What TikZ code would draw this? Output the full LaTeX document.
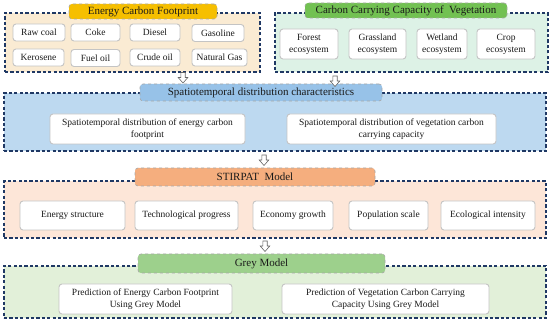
\documentclass[tikz,border=0pt]{standalone}
\usepackage{fontspec}
\setmainfont{Liberation Serif}
\definecolor{navy}{HTML}{1F3864}
\definecolor{fOne}{HTML}{FAEBD3}
\definecolor{tOne}{HTML}{F6BF00}
\definecolor{fTwo}{HTML}{DDF2E6}
\definecolor{tTwo}{HTML}{72C152}
\definecolor{fThree}{HTML}{BDD9F0}
\definecolor{tThree}{HTML}{97C2E8}
\definecolor{fFour}{HTML}{FDE6D8}
\definecolor{tFour}{HTML}{F5AE7E}
\definecolor{fFive}{HTML}{E2F0D9}
\definecolor{tFive}{HTML}{9DD08C}
\definecolor{itemline}{HTML}{C4C4C4}
\definecolor{txt}{HTML}{1A1A1A}
\tikzset{
  frame/.style={draw=navy, line width=1.1pt, dash pattern=on 3.2pt off 2.2pt, inner sep=0pt},
  titlebox/.style={draw=gray!70, dashed, line width=0.6pt, rounded corners=3pt, inner sep=0pt,
    font=\fontsize{11}{13}\selectfont, text=txt},
  itembox/.style={draw=itemline, line width=0.9pt, fill=white, rounded corners=3pt, inner sep=0pt,
    align=center, font=\fontsize{9.5}{12}\selectfont, text=txt},
  barrow/.style={draw=gray!80!black, fill=white, line width=0.6pt, line join=miter}
}
\newcommand\downarr[1]{\draw[barrow] (#1) ++(-2.2,0) -- ++(4.4,0) -- ++(0,5) -- ++(2.6,0) -- ++(-4.8,5.5) -- ++(-4.8,-5.5) -- ++(2.6,0) -- cycle;}
\begin{document}
\begin{tikzpicture}[x=1pt,y=-1pt]
\useasboundingbox (0,0) rectangle (550,320);
% frames
\node[frame, fill=fOne, minimum width=255pt, minimum height=59pt] (f1) at (132.5,42.5) {};
\node[frame, fill=fTwo, minimum width=273pt, minimum height=59pt] (f2) at (411.5,42.5) {};
\node[frame, fill=fThree, minimum width=542pt, minimum height=58pt] (f3) at (275,122) {};
\node[frame, fill=fFour, minimum width=542pt, minimum height=57pt] (f4) at (275,209.5) {};
\node[frame, fill=fFive, minimum width=542pt, minimum height=52pt] (f5) at (275,292) {};
% titles
\node[titlebox, fill=tOne, minimum width=148pt, minimum height=15pt] (t1) at (143,11.5) {Energy Carbon Footprint};
\node[titlebox, fill=tTwo, minimum width=202pt, minimum height=15pt] (t2) at (406,10.5) {Carbon Carrying Capacity of\ \ Vegetation};
\node[titlebox, fill=tThree, minimum width=242pt, minimum height=17pt] (t3) at (261,92.5) {Spatiotemporal distribution characteristics};
\node[titlebox, fill=tFour, minimum width=240pt, minimum height=18pt] (t4) at (255,177) {STIRPAT\ \ Model};
\node[titlebox, fill=tFive, minimum width=247pt, minimum height=19pt] (t5) at (261.5,263.5) {Grey Model};
% energy items
\node[itembox, minimum width=52pt, minimum height=17pt] (e1) at (39,32.5) {Raw coal};
\node[itembox, minimum width=49pt, minimum height=17pt] (e2) at (95.5,32.5) {Coke};
\node[itembox, minimum width=50pt, minimum height=17pt] (e3) at (155,32.5) {Diesel};
\node[itembox, minimum width=52pt, minimum height=17pt] (e4) at (218,33) {Gasoline};
\node[itembox, minimum width=51pt, minimum height=17pt] (e5) at (38.5,57.5) {Kerosene};
\node[itembox, minimum width=49pt, minimum height=17pt] (e6) at (95.5,58) {Fuel oil};
\node[itembox, minimum width=50pt, minimum height=17pt] (e7) at (155,57.5) {Crude oil};
\node[itembox, minimum width=55pt, minimum height=17pt] (e8) at (219.5,57.5) {Natural Gas};
% vegetation items
\node[itembox, minimum width=58pt, minimum height=30pt] (v1) at (309,44) {Forest\\ecosystem};
\node[itembox, minimum width=57pt, minimum height=30pt] (v2) at (377.5,44) {Grassland\\ecosystem};
\node[itembox, minimum width=50pt, minimum height=30pt] (v3) at (442,44) {Wetland\\ecosystem};
\node[itembox, minimum width=58pt, minimum height=30pt] (v4) at (506,44) {Crop\\ecosystem};
% spatiotemporal items
\node[itembox, minimum width=195pt, minimum height=30pt] (s1) at (147.5,129) {Spatiotemporal distribution of energy carbon\\footprint};
\node[itembox, minimum width=209pt, minimum height=30pt] (s2) at (391.5,129) {Spatiotemporal distribution of vegetation carbon\\carrying capacity};
% STIRPAT items
\node[itembox, minimum width=105pt, minimum height=29pt] (p1) at (72.5,215.5) {Energy structure};
\node[itembox, minimum width=103pt, minimum height=29pt] (p2) at (186.5,215.5) {Technological progress};
\node[itembox, minimum width=80pt, minimum height=29pt] (p3) at (293,215.5) {Economy growth};
\node[itembox, minimum width=79pt, minimum height=29pt] (p4) at (388.5,215.5) {Population scale};
\node[itembox, minimum width=94pt, minimum height=29pt] (p5) at (488,215.5) {Ecological intensity};
% grey model items
\node[itembox, minimum width=173pt, minimum height=30pt] (g1) at (145.5,299) {Prediction of Energy Carbon Footprint\\Using Grey Model};
\node[itembox, minimum width=207pt, minimum height=30pt] (g2) at (385.5,299) {Prediction of Vegetation Carbon Carrying\\Capacity Using Grey Model};
% arrows
\coordinate (a1) at (f1.south -| 183,0);
\coordinate (a2) at (335,76);
\coordinate (a3) at (264,155);
\coordinate (a4) at (265,241);
\downarr{a1}
\downarr{a2}
\downarr{a3}
\downarr{a4}
\end{tikzpicture}
\end{document}
